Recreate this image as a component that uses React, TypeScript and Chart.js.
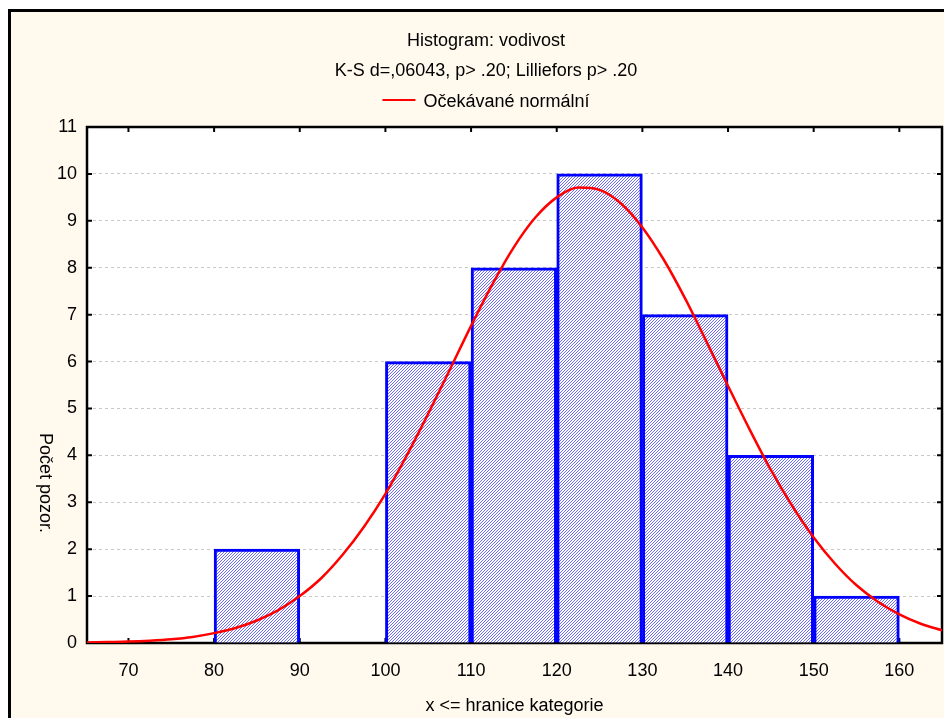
import React, { useEffect, useRef } from 'react';
import { Chart, registerables } from 'chart.js';

Chart.register(...registerables);

const FONT = "'Liberation Sans', Arial, Helvetica, sans-serif";

const titleText = 'Histogram: vodivost';
const subtitleText = 'K-S d=,06043, p> .20; Lilliefors p> .20';
const legendLabel = 'Očekávané normální';
const xTitle = 'x <= hranice kategorie';
const yTitle = 'Počet pozor.';

// histogram bins (centre of each 10-wide class) and counts
const binCenters = [85, 95, 105, 115, 125, 135, 145, 155];
const binCounts = [2, 0, 6, 8, 10, 7, 4, 1];

// expected normal curve
const curveX = [
  65, 67.5, 70, 72.5, 75, 77.5, 80, 82.5, 85, 87.5, 90, 92.5, 95, 97.5, 100, 102.5,
  105, 107.5, 110, 112.5, 115, 117.5, 120, 122.5, 125, 127.5, 130, 132.5, 135, 137.5,
  140, 142.5, 145, 147.5, 150, 152.5, 155, 157.5, 160, 162.5, 165,
];
const curveY = [
  0.01, 0.02, 0.03, 0.05, 0.08, 0.13, 0.21, 0.32, 0.48, 0.7, 1.0, 1.38, 1.88, 2.48, 3.18, 4.0,
  4.89, 5.82, 6.76, 7.65, 8.44, 9.07, 9.5, 9.71, 9.66, 9.37, 8.86, 8.17, 7.34, 6.42,
  5.48, 4.56, 3.69, 2.92, 2.25, 1.69, 1.23, 0.88, 0.61, 0.41, 0.27,
];

const xTicks = [70, 80, 90, 100, 110, 120, 130, 140, 150, 160];
const xMin = 65.16;
const xMax = 164.98;
const yMin = 0;
const yMax = 11;

const framePlugin = {
  id: 'statFrame',
  beforeDraw(chart: any) {
    const { ctx, chartArea } = chart;
    const { left, right, top, bottom } = chartArea;
    ctx.save();
    ctx.fillStyle = '#ffffff';
    ctx.fillRect(left, top, right - left, bottom - top);
    ctx.restore();
  },
  beforeDatasetsDraw(chart: any) {
    const { ctx, chartArea } = chart;
    const { left, right, top, bottom } = chartArea;
    const xs = chart.scales.x;
    const ys = chart.scales.y;
    ctx.save();
    ctx.strokeStyle = '#000000';
    ctx.lineWidth = 2.5;
    ctx.strokeRect(left, top, right - left, bottom - top);
    ctx.lineWidth = 2;
    ctx.beginPath();
    xs.ticks.forEach((t: any) => {
      const p = xs.getPixelForValue(t.value);
      ctx.moveTo(p, bottom);
      ctx.lineTo(p, bottom - 5);
      ctx.moveTo(p, top);
      ctx.lineTo(p, top + 5);
    });
    ys.ticks.forEach((t: any) => {
      const p = ys.getPixelForValue(t.value);
      ctx.moveTo(left, p);
      ctx.lineTo(left + 5, p);
      ctx.moveTo(right, p);
      ctx.lineTo(right - 5, p);
    });
    ctx.stroke();
    ctx.restore();
  },
  afterDraw(chart: any) {
    const { ctx, chartArea } = chart;
    const cx = 475;
    ctx.save();
    ctx.fillStyle = '#000000';
    ctx.font = `18px ${FONT}`;
    ctx.textBaseline = 'alphabetic';
    ctx.textAlign = 'center';
    ctx.fillText(titleText, cx, 34);
    ctx.fillText(subtitleText, cx, 64);
    // legend
    const tw = ctx.measureText(legendLabel).width;
    const total = 33 + 8 + tw;
    const lx = cx - total / 2;
    ctx.strokeStyle = '#ff0000';
    ctx.lineWidth = 2;
    ctx.beginPath();
    ctx.moveTo(lx, 88);
    ctx.lineTo(lx + 33, 88);
    ctx.stroke();
    ctx.textAlign = 'left';
    ctx.fillText(legendLabel, lx + 41, 95);
    // x title
    ctx.textAlign = 'center';
    ctx.fillText(xTitle, (chartArea.left + chartArea.right) / 2, 699);
    // y title, rotated clockwise
    ctx.translate(34, 471);
    ctx.rotate(Math.PI / 2);
    ctx.textBaseline = 'middle';
    ctx.fillText(yTitle, 0, 0);
    ctx.restore();
  },
};

function makeHatch(): CanvasPattern | string {
  const tile = document.createElement('canvas');
  tile.width = 3;
  tile.height = 3;
  const t = tile.getContext('2d');
  if (!t) return '#b4b4f6';
  t.fillStyle = '#ffffff';
  t.fillRect(0, 0, 3, 3);
  t.fillStyle = '#6a6aff';
  t.fillRect(2, 0, 1, 1);
  t.fillRect(1, 1, 1, 1);
  t.fillRect(0, 2, 1, 1);
  const main = document.createElement('canvas').getContext('2d');
  const p = main ? main.createPattern(tile, 'repeat') : null;
  return p || '#b4b4f6';
}

export default function App() {
  const ref = useRef<HTMLCanvasElement>(null);

  useEffect(() => {
    const canvas = ref.current;
    if (!canvas) return;
    const hatch = makeHatch();
    const chart = new Chart(canvas, {
      type: 'bar',
      data: {
        datasets: [
          {
            type: 'line',
            label: legendLabel,
            data: curveX.map((x, i) => ({ x, y: curveY[i] })),
            borderColor: '#ff0000',
            borderWidth: 2.5,
            pointRadius: 0,
            cubicInterpolationMode: 'monotone',
            fill: false,
            order: 0,
          } as any,
          {
            type: 'bar',
            label: 'Histogram',
            data: binCenters.map((x, i) => ({ x, y: binCounts[i] > 0 ? binCounts[i] : null })),
            backgroundColor: hatch as any,
            borderColor: '#0000ff',
            borderWidth: 3,
            barPercentage: 1,
            categoryPercentage: 1,
            grouped: false,
            order: 1,
          } as any,
        ],
      },
      options: {
        responsive: false,
        animation: false,
        devicePixelRatio: 1,
        layout: { padding: { top: 115, right: 19, bottom: 0, left: 0 } },
        plugins: {
          legend: { display: false },
          title: { display: false },
          tooltip: { enabled: false },
        },
        scales: {
          x: {
            type: 'linear',
            min: xMin,
            max: xMax,
            offset: false,
            grid: { display: false, drawTicks: false },
            border: { display: false },
            afterBuildTicks: (s: any) => {
              s.ticks = xTicks.map((v) => ({ value: v }));
            },
            afterFit: (s: any) => {
              s.height = 75;
            },
            ticks: {
              autoSkip: false,
              maxRotation: 0,
              padding: 17,
              color: '#000000',
              font: { family: FONT, size: 18 },
              callback: (v: any) => String(v),
            },
          },
          y: {
            type: 'linear',
            min: yMin,
            max: yMax,
            grid: { display: true, drawTicks: false, color: '#c8c8c8', lineWidth: 1 },
            border: { display: false, dash: [3, 3] },
            afterFit: (s: any) => {
              s.width = 76;
            },
            ticks: {
              stepSize: 1,
              padding: 10,
              color: '#000000',
              font: { family: FONT, size: 18 },
            },
          },
        },
      } as any,
      plugins: [framePlugin],
    });
    return () => chart.destroy();
  }, []);

  return (
    <div
      style={{
        position: 'fixed',
        left: 8,
        top: 9,
        width: 936,
        height: 709,
        boxSizing: 'border-box',
        borderLeft: '3px solid #000',
        borderTop: '3px solid #000',
        background: '#fff9ee',
        overflow: 'hidden',
      }}
    >
      <canvas
        ref={ref}
        width={950}
        height={706}
        style={{ position: 'absolute', left: 0, top: 0, display: 'block' }}
      />
    </div>
  );
}
